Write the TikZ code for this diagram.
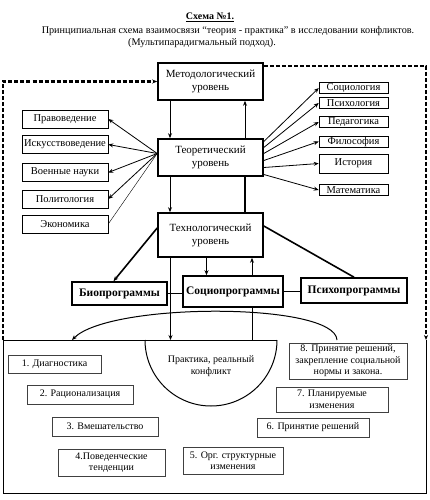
\documentclass[tikz,border=0pt]{standalone}
\usepackage{fontspec}
\setmainfont{Liberation Serif}
\usetikzlibrary{arrows.meta}

\begin{document}
\begin{tikzpicture}[
    x=1pt, y=-1pt,
    level/.style={draw, line width=1.6pt, align=center, minimum width=105pt, font=\fontsize{11}{13}\selectfont},
    science/.style={draw, line width=0.5pt, inner sep=0.5pt, font=\fontsize{10.5}{11}\selectfont},
    prog/.style={draw, line width=1.6pt, fill=white, font=\bfseries\fontsize{11.5}{13}\selectfont},
    stage/.style={draw=black!75, line width=0.5pt, align=center, inner sep=1pt, font=\fontsize{10}{11.5}\selectfont},
    loopline/.style={line width=2.2pt, dash pattern=on 4pt off 2pt},
    >={Stealth[length=5pt,width=4pt]}
]
\useasboundingbox (0,0) rectangle (430,500);

\node[font=\bfseries\fontsize{10}{12}\selectfont] (title) at (210,17) {\underline{Схема №1.}};
\node[font=\fontsize{10.2}{12}\selectfont] (sub1) at (228,31) {Принципиальная схема взаимосвязи “теория - практика” в исследовании конфликтов.};
\node[font=\fontsize{10.2}{12}\selectfont] (sub2) at (202,43) {(Мультипарадигмальный подход).};

\node[level, minimum height=37pt] (meth) at (210.5,81.5) {Методологический\\уровень};
\node[level, minimum height=37pt] (theor) at (210.5,157.5) {Теоретический\\уровень};
\node[level, minimum height=44pt] (tech) at (210.5,235) {Технологический\\уровень};

\node[science, minimum width=86pt, minimum height=18pt] (prav) at (65,119) {Правоведение};
\node[science, minimum width=86pt, minimum height=18pt] (isk) at (65,144.5) {Искусствоведение};
\node[science, minimum width=86pt, minimum height=18pt] (voen) at (65,172.5) {Военные науки};
\node[science, minimum width=86pt, minimum height=18pt] (polit) at (65,199) {Политология};
\node[science, minimum width=86pt, minimum height=18pt] (econ) at (65,224) {Экономика};

\node[science, minimum width=69pt, minimum height=11pt] (soc) at (353.5,88) {Социология};
\node[science, minimum width=69pt, minimum height=11pt] (psy) at (353.5,103) {Психология};
\node[science, minimum width=69pt, minimum height=11pt] (ped) at (353.5,122) {Педагогика};
\node[science, minimum width=69pt, minimum height=11pt] (phil) at (353.5,141.5) {Философия};
\node[science, minimum width=69pt, minimum height=19pt] (hist) at (353.5,163.5) {История};
\node[science, minimum width=69pt, minimum height=11pt] (math) at (353.5,190) {Математика};

\node[prog, minimum width=95pt, minimum height=23pt] (bio) at (119.5,293.5) {Биопрограммы};
\node[prog, minimum width=100pt, minimum height=31pt] (socio) at (233,291.5) {Социопрограммы};
\node[prog, minimum width=106pt, minimum height=25pt] (psycho) at (354,290.5) {Психопрограммы};

\coordinate (fl) at (3,340);
\coordinate (fr) at (426,340);
\coordinate (ptop) at (211,340);
\coordinate (arcs) at (337,340);
\coordinate (arce) at (72,340);

\draw[line width=0.9pt] (277,340) -- (fl) -- (3,493) -- (426,493) -- (fr);
\draw[line width=1pt] (145,340) arc[start angle=180, end angle=0, radius=66];
\node[align=center, font=\fontsize{10}{12.5}\selectfont] (prak) at (211,366) {Практика, реальный\\конфликт};

\node[stage, minimum width=93pt, minimum height=18pt] (s1) at (54.5,364) {1. Диагностика};
\node[stage, minimum width=106pt, minimum height=19pt] (s2) at (80,394.5) {2. Рационализация};
\node[stage, minimum width=106pt, minimum height=19pt] (s3) at (105,426.5) {3. Вмешательство};
\node[stage, minimum width=107pt, minimum height=27pt] (s4) at (111.5,462.5) {4.Поведенческие\\тенденции};
\node[stage, minimum width=100pt, minimum height=27pt] (s5) at (233,460.5) {5. Орг. структурные\\изменения};
\node[stage, minimum width=112pt, minimum height=19pt] (s6) at (313,427.5) {6. Принятие решений};
\node[stage, minimum width=112pt, minimum height=25pt] (s7) at (332,399.5) {7. Планируемые\\изменения};
\node[stage, minimum width=118pt, minimum height=36pt] (s8) at (348,361) {8. Принятие решений,\\закрепление социальной\\нормы и закона.};

\draw[loopline,->] (fl) |- (meth.west);
\draw[loopline,->] ([yshift=15.5pt]meth.east) -| (fr);

\draw[->, line width=0.8pt] ([xshift=-40.5pt]meth.south) -- ([xshift=-40.5pt]theor.north);
\draw[->, line width=0.8pt] ([xshift=34.5pt]theor.north) -- ([xshift=34.5pt]meth.south);
\draw[->, line width=0.8pt] ([xshift=-40.5pt]theor.south) -- ([xshift=-40.5pt]tech.north);
\draw[line width=2pt] ([xshift=34.5pt]tech.north) -- ([xshift=34.5pt]theor.south);

\coordinate (hubl) at ([yshift=4pt]theor.west);
\foreach \t in {prav,isk,voen,polit}
    \draw[->, line width=0.8pt] (hubl) -- (\t.east);
\draw[line width=0.4pt] (hubl) -- (econ.east);
\foreach \t/\s in {soc/16,psy/10,ped/4,phil/-3,hist/-10,math/-17}
    \draw[->, line width=0.8pt] ([yshift=\s pt]theor.east) -- (\t.west);

\draw[->, line width=1.6pt] ([yshift=7pt]tech.west) -- ([xshift=-6pt]bio.north);
\draw[line width=1.6pt] ([yshift=9pt]tech.east) -- (psycho.north);
\draw[->, line width=1.6pt] ([xshift=-4pt]tech.south) -- ([xshift=-4pt]tech.south |- socio.north);
\draw[->, line width=0.8pt] ([xshift=-40pt]tech.south) -- ([xshift=-40pt]tech.south |- ptop);
\draw[line width=1pt] ([xshift=41pt]ptop) -- ([xshift=41pt]ptop |- socio.south);
\draw[->, line width=1pt] ([xshift=41pt]ptop |- socio.north) -- ([xshift=41pt]ptop |- tech.south);

\draw[line width=0.5pt] (bio.east) -- (bio.east -| socio.west);
\draw[line width=0.5pt] (socio.east) -- (socio.east -| psycho.west);

\draw[->, line width=1pt] (arcs) .. controls (335,302) and (110,302) .. (arce);
\end{tikzpicture}
\end{document}
